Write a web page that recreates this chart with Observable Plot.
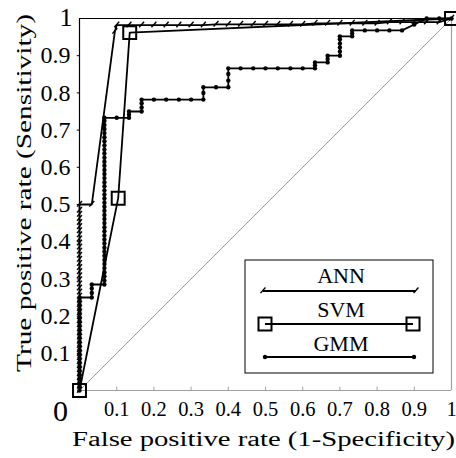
<!DOCTYPE html>
<html><head><meta charset="utf-8">
<script src="https://cdn.jsdelivr.net/npm/d3@7"></script>
<script src="https://cdn.jsdelivr.net/npm/@observablehq/plot@0.6"></script>
<style>
html,body{margin:0;padding:0;background:#fff;}
svg{display:block;}
</style></head><body><div id="chart"></div>
<script>
// ---- data ----
const xTicks = [0.1, 0.2, 0.3, 0.4, 0.5, 0.6, 0.7, 0.8, 0.9, 1];
const yTicks = [0.1, 0.2, 0.3, 0.4, 0.5, 0.6, 0.7, 0.8, 0.9];
const yTopLabel = "1";
const originLabel = "0";
const xLabel = "False positive rate (1-Specificity)";
const yLabel = "True positive rate (Sensitivity)";
const seriesNames = ["ANN", "SVM", "GMM"];

const annPoints = [
  [0,0],[0,.011],[0,.022],[0,.033],[0,.044],[0,.055],[0,.066],[0,.077],[0,.088],[0,.099],
  [0,.11],[0,.121],[0,.132],[0,.143],[0,.154],[0,.165],[0,.176],[0,.187],[0,.198],[0,.209],
  [0,.22],[0,.231],[0,.242],[0,.253],[0,.264],[0,.275],[0,.286],[0,.297],[0,.308],[0,.319],
  [0,.33],[0,.341],[0,.352],[0,.363],[0,.374],[0,.385],[0,.396],[0,.407],[0,.418],[0,.429],
  [0,.44],[0,.451],[0,.462],[0,.473],[0,.484],[0,.5],
  [.033,.5],[.095,.965],[.1,.982],[.133,.982],[.167,.982],[.2,.982],[.233,.982],[.267,.982],
  [.3,.982],[.333,.982],[.367,.984],[.4,.984],[.433,.984],[.467,.984],[.5,.984],[.533,.984],
  [.567,.984],[.6,.984],[.633,.987],[.667,.987],[.7,.987],[.733,.987],[.767,.987],[.8,.987],
  [.833,.99],[.867,.99],[.9,.99],[.933,.99],[.967,.99],[1,1]
];

const svmPoints = [[0,0],[.104,.517],[.135,.962],[1,1]];

const gmmPoints = [
  [0,0],[0,.011],[0,.022],[0,.033],[0,.044],[0,.055],[0,.066],[0,.077],[0,.088],[0,.099],
  [0,.11],[0,.121],[0,.132],[0,.143],[0,.154],[0,.165],[0,.176],[0,.187],[0,.198],[0,.209],
  [0,.22],[0,.231],[0,.242],[0,.25],
  [.033,.25],[.033,.262],[.033,.274],[.033,.285],[.067,.285],
  [.067,.296],[.067,.307],[.067,.318],[.067,.329],[.067,.34],[.067,.351],[.067,.362],[.067,.373],
  [.067,.384],[.067,.395],[.067,.406],[.067,.417],[.067,.428],[.067,.439],[.067,.45],[.067,.461],
  [.067,.472],[.067,.483],[.067,.494],[.067,.505],[.067,.516],[.067,.527],[.067,.538],[.067,.549],
  [.067,.56],[.067,.571],[.067,.582],[.067,.593],[.067,.604],[.067,.615],[.067,.626],[.067,.637],
  [.067,.648],[.067,.659],[.067,.67],[.067,.681],[.067,.692],[.067,.703],[.067,.714],[.067,.725],
  [.067,.733],
  [.1,.733],[.133,.733],[.133,.742],[.133,.75],[.167,.75],[.167,.761],[.167,.772],[.167,.782],
  [.2,.782],[.233,.782],[.267,.782],[.3,.782],[.333,.782],[.333,.8],[.333,.815],[.367,.815],
  [.4,.815],[.4,.833],[.4,.851],[.4,.866],[.433,.866],[.467,.866],[.5,.866],[.533,.866],
  [.567,.866],[.6,.866],[.633,.866],[.633,.874],[.633,.882],[.667,.882],[.667,.891],[.667,.9],
  [.7,.9],[.7,.911],[.7,.922],[.7,.933],[.7,.944],[.7,.952],[.733,.952],[.733,.96],[.733,.968],
  [.767,.968],[.8,.968],[.833,.968],[.867,.968],[.9,.984],[.933,1],[.967,1],[1,1]
];
const diagonal = [[0,0],[1,1]];

// ---- marker symbols ----
const annSymbol = {
  draw(ctx, size) {
    const r = Math.sqrt(size / Math.PI);
    ctx.moveTo(-r * 0.7, r * 0.6);
    ctx.lineTo(r * 0.7, -r * 1.0);
  }
};
const FONT = "Liberation Serif, serif";
const gray = "#a0a0a0";

const plot = Plot.plot({
  width: 456,
  height: 458,
  marginLeft: 79,
  marginRight: 5,
  marginTop: 18,
  marginBottom: 68,
  style: {fontFamily: FONT, background: "#fff", color: "#000"},
  x: {domain: [0, 1], axis: null},
  y: {domain: [0, 1], axis: null},
  marks: [
    Plot.line(diagonal, {x: d => d[0], y: d => d[1], stroke: gray, strokeWidth: 1}),
    // frame
    Plot.ruleY([0], {stroke: gray, strokeWidth: 1.2}),
    Plot.ruleX([1], {stroke: gray, strokeWidth: 1.2}),
    Plot.ruleY([1], {stroke: "#000", strokeWidth: 1.2}),
    Plot.ruleX([0], {stroke: "#000", strokeWidth: 1.2}),
    Plot.ruleX(xTicks, {y1: 0, y2: 0.009, stroke: gray, strokeWidth: 1}),
    Plot.ruleY(yTicks, {x1: -0.006, x2: 0, stroke: "#000", strokeWidth: 1}),
    // axes labels
    Plot.axisX(xTicks, {tickSize: 0, tickPadding: 11, fontSize: 20.5, tickFormat: d => String(d)}),
    Plot.axisY(yTicks, {tickSize: 0, tickPadding: 9, fontSize: 24, tickFormat: d => String(d)}),
    Plot.text([1], {x: 0, y: d => d, text: () => yTopLabel, fontSize: 26, textAnchor: "end", dx: -7, dy: -1}),
    Plot.text([0], {x: 0, y: d => d, text: () => originLabel, fontSize: 30, dx: -19, dy: 21}),
    // SVM
    Plot.line(svmPoints, {x: d => d[0], y: d => d[1], stroke: "#000", strokeWidth: 1.8}),
    Plot.dot(svmPoints, {x: d => d[0], y: d => d[1], symbol: "square", r: 7.3, stroke: "#000", strokeWidth: 2, fill: "none"}),
    // GMM
    Plot.line(gmmPoints, {x: d => d[0], y: d => d[1], stroke: "#000", strokeWidth: 1.8}),
    Plot.dot(gmmPoints, {x: d => d[0], y: d => d[1], r: 2.2, fill: "#000", stroke: "none"}),
    // ANN
    Plot.line(annPoints, {x: d => d[0], y: d => d[1], stroke: "#000", strokeWidth: 1.8}),
    Plot.dot(annPoints, {x: d => d[0], y: d => d[1], symbol: annSymbol, r: 3.5, stroke: "#000", strokeWidth: 1.4, fill: "none"})
  ]
});

// axis titles and legend (non-data decorations)
const svg = d3.select(plot);
const xs = plot.scale("x");
const cx = (xs.range[0] + xs.range[1]) / 2;
svg.append("text").attr("x", cx - 1.5).attr("y", 446).attr("text-anchor", "middle")
  .attr("font-size", 20).attr("font-family", FONT)
  .attr("textLength", 383).attr("lengthAdjust", "spacingAndGlyphs").text(xLabel);
svg.append("text").attr("transform", "translate(31,193) rotate(-90)").attr("text-anchor", "middle")
  .attr("font-size", 20.5).attr("font-family", FONT)
  .attr("textLength", 358).attr("lengthAdjust", "spacingAndGlyphs").text(yLabel);

const lg = svg.append("g").attr("font-family", FONT);
lg.append("rect").attr("x", 245).attr("y", 260).attr("width", 188).attr("height", 113)
  .attr("fill", "#fff").attr("stroke", "#000").attr("stroke-width", 1);
const rows = [
  {name: seriesNames[0], ty: 283, ly: 291, x1: 263, x2: 416},
  {name: seriesNames[1], ty: 317, ly: 324, x1: 265, x2: 413},
  {name: seriesNames[2], ty: 351, ly: 357, x1: 265, x2: 414}
];
rows.forEach((r, i) => {
  lg.append("text").attr("x", 341).attr("y", r.ty).attr("text-anchor", "middle")
    .attr("font-size", 22).text(r.name);
  lg.append("line").attr("x1", r.x1).attr("x2", r.x2).attr("y1", r.ly).attr("y2", r.ly)
    .attr("stroke", "#000").attr("stroke-width", 1.8);
  [r.x1, r.x2].forEach(px => {
    if (i === 0) {
      lg.append("path").attr("d", d3.symbol(annSymbol, 3.5 * 3.5 * Math.PI)())
        .attr("transform", `translate(${px},${r.ly})`).attr("fill", "none")
        .attr("stroke", "#000").attr("stroke-width", 1.4);
    } else if (i === 1) {
      lg.append("rect").attr("x", px - 6.5).attr("y", r.ly - 6.5).attr("width", 13).attr("height", 13)
        .attr("fill", "none").attr("stroke", "#000").attr("stroke-width", 2);
    } else {
      lg.append("circle").attr("cx", px).attr("cy", r.ly).attr("r", 2.2).attr("fill", "#000");
    }
  });
});

document.getElementById("chart").appendChild(plot);
</script>
</body></html>
